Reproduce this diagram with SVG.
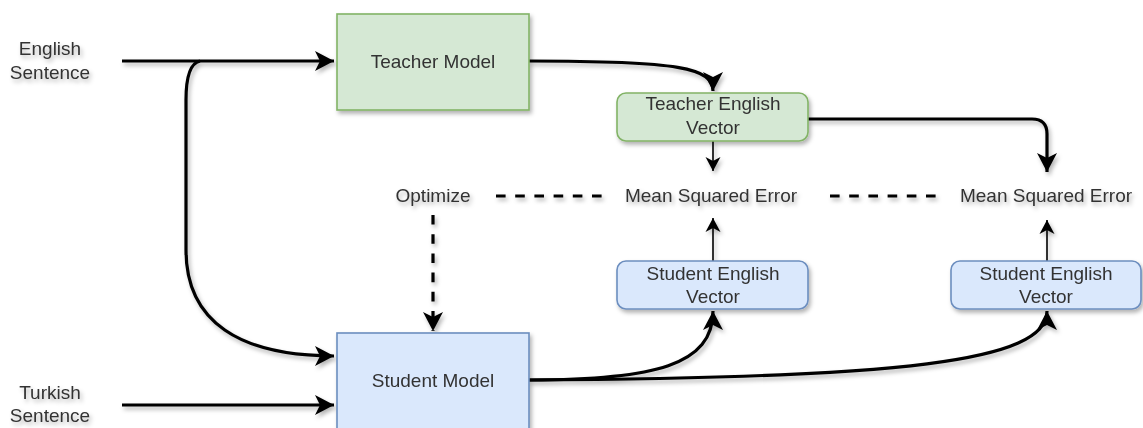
<svg xmlns="http://www.w3.org/2000/svg" width="1143" height="428" viewBox="0 0 1143 428">
<style>
text{font-family:"Liberation Sans",Arial,sans-serif;font-size:19px;fill:#333;text-anchor:middle}
.green{fill:#d5e8d4;stroke:#82b366;stroke-width:1.6}
.blue{fill:#dae8fc;stroke:#6c8ebf;stroke-width:1.6}
.thick{fill:none;stroke:#000;stroke-width:3.2}
.thin{fill:none;stroke:#000;stroke-width:1.6}
.dash{fill:none;stroke:#000;stroke-width:3.2;stroke-dasharray:9.6 9.6}
</style>
<defs>
<filter id="sh" x="-20%" y="-20%" width="140%" height="160%">
<feDropShadow dx="2" dy="3" stdDeviation="2" flood-color="#000" flood-opacity="0.3"/>
</filter>
<marker id="ab" markerUnits="userSpaceOnUse" viewBox="-21 -11 23 22" markerWidth="23" markerHeight="22" refX="0" refY="0" orient="auto">
<path d="M-19,-10 L0,0 L-19,10 L-14,0 Z" fill="#000"/>
</marker>
<marker id="as" markerUnits="userSpaceOnUse" viewBox="-15 -9 17 18" markerWidth="17" markerHeight="18" refX="0" refY="0" orient="auto">
<path d="M-14,-7.5 L0,0 L-14,7.5 L-10,0 Z" fill="#000"/>
</marker>
</defs>
<g id="connectors" filter="url(#sh)">
<path class="thick" d="M122,61 L334,61" marker-end="url(#ab)"/>
<path class="thick" d="M200,61 Q186,64 186,100 L186,250 C186,322 240,356 334,356" marker-end="url(#ab)"/>
<path class="thick" d="M122,405 L334,405" marker-end="url(#ab)"/>
<path class="thick" d="M529,61 C680,61 713,68 713,91" marker-end="url(#ab)"/>
<path class="thin" d="M713,141 L713,171" marker-end="url(#as)"/>
<path class="thick" d="M808,119 L1032,119 Q1047,119 1047,134 L1047,172" marker-end="url(#ab)"/>
<path class="thin" d="M713,261 L713,218" marker-end="url(#as)"/>
<path class="thin" d="M1047,261 L1047,220" marker-end="url(#as)"/>
<path class="thick" d="M529,380 C655,380 713,365 713,311" marker-end="url(#ab)"/>
<path class="thick" d="M529,380 C900,378 1047,362 1047,311" marker-end="url(#ab)"/>
<path class="dash" d="M433,215 L433,331" marker-end="url(#ab)"/>
<path class="dash" d="M496,196 L602,196"/>
<path class="dash" d="M830,196 L936,196"/>
</g>
<g id="english-sentence" filter="url(#sh)">
<text x="50" y="55">English</text>
<text x="50" y="79">Sentence</text>
</g>
<g id="turkish-sentence" filter="url(#sh)">
<text x="50" y="399">Turkish</text>
<text x="50" y="422">Sentence</text>
</g>
<g id="teacher-model" filter="url(#sh)">
<rect class="green" x="337" y="14" width="192" height="96"/>
<text x="433" y="68">Teacher Model</text>
</g>
<g id="teacher-english-vector" filter="url(#sh)">
<rect class="green" x="617" y="93" width="191" height="48" rx="9"/>
<text x="713" y="110">Teacher English</text>
<text x="713" y="134">Vector</text>
</g>
<g id="optimize" filter="url(#sh)">
<text x="433" y="202">Optimize</text>
</g>
<g id="mse-1" filter="url(#sh)">
<text x="711" y="202">Mean Squared Error</text>
</g>
<g id="mse-2" filter="url(#sh)">
<text x="1046" y="202">Mean Squared Error</text>
</g>
<g id="student-english-vector-1" filter="url(#sh)">
<rect class="blue" x="617" y="261" width="191" height="48" rx="9"/>
<text x="713" y="280">Student English</text>
<text x="713" y="303">Vector</text>
</g>
<g id="student-english-vector-2" filter="url(#sh)">
<rect class="blue" x="951" y="261" width="190" height="48" rx="9"/>
<text x="1046" y="280">Student English</text>
<text x="1046" y="303">Vector</text>
</g>
<g id="student-model" filter="url(#sh)">
<rect class="blue" x="337" y="333" width="192" height="100"/>
<text x="433" y="387">Student Model</text>
</g>
</svg>
